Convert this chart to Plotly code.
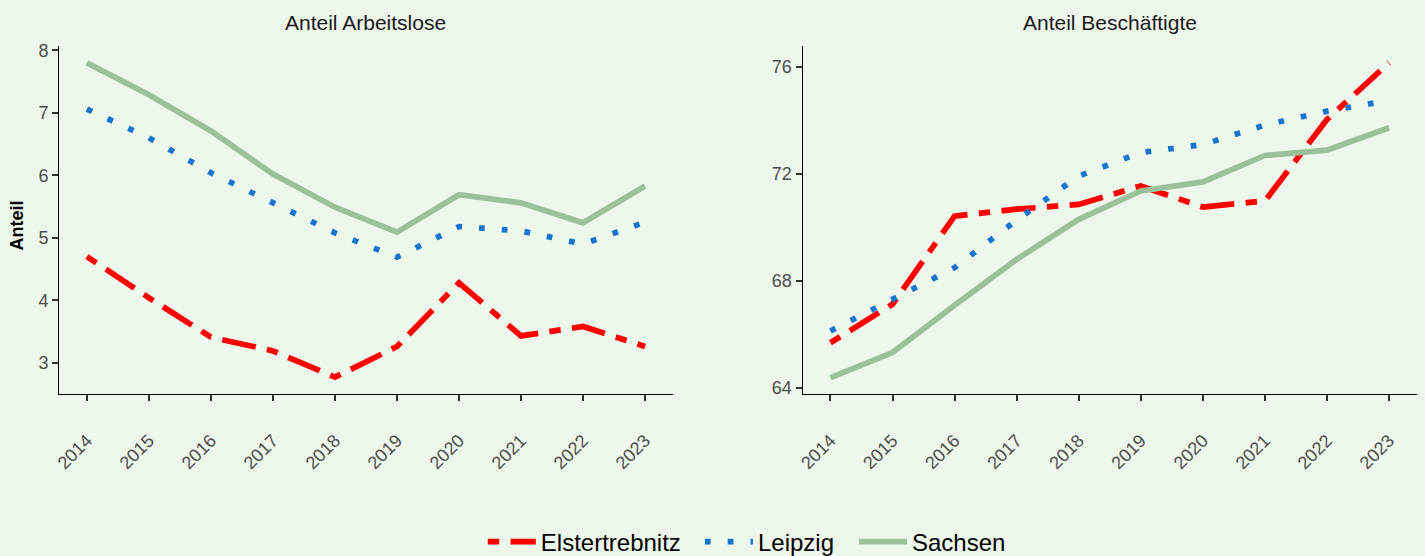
import plotly.graph_objects as go
from plotly.subplots import make_subplots

years = [2014, 2015, 2016, 2017, 2018, 2019, 2020, 2021, 2022, 2023]
series_names = ["Elstertrebnitz", "Leipzig", "Sachsen"]
panel_titles = ["Anteil Arbeitslose", "Anteil Beschäftigte"]

arbeitslose_elstertrebnitz = [4.70, 4.04, 3.41, 3.19, 2.77, 3.26, 4.28, 3.43, 3.58, 3.26]
arbeitslose_leipzig = [7.06, 6.60, 6.04, 5.57, 5.08, 4.69, 5.18, 5.11, 4.90, 5.25]
arbeitslose_sachsen = [7.80, 7.29, 6.71, 6.02, 5.49, 5.09, 5.69, 5.56, 5.24, 5.83]

beschaeftigte_elstertrebnitz = [65.68, 67.12, 70.42, 70.68, 70.86, 71.55, 70.76, 70.99, 74.04, 76.16]
beschaeftigte_leipzig = [66.12, 67.28, 68.49, 70.27, 71.92, 72.80, 73.10, 73.83, 74.35, 74.75]
beschaeftigte_sachsen = [64.37, 65.31, 67.08, 68.80, 70.30, 71.36, 71.70, 72.69, 72.89, 73.73]

W, H = 1425, 556
ML, MR, MT, MB = 59.4, 8.3, 46, 162
pw = W - ML - MR
ph = H - MT - MB

lw = 5.7
styles = {
    "Elstertrebnitz": dict(color="#FF0000", width=lw, dash="11.4px,11.4px,34.2px,11.4px"),
    "Leipzig": dict(color="#1874CD", width=lw, dash="5.7px,17.1px"),
    "Sachsen": dict(color="#9CC09C", width=lw, dash="solid"),
}
legend_ids = {"Elstertrebnitz": "legend", "Leipzig": "legend2", "Sachsen": "legend3"}
legend_text_px = {"Elstertrebnitz": 541, "Leipzig": 758, "Sachsen": 912}
item_w = 48

fig = make_subplots(rows=1, cols=2, horizontal_spacing=0.0954)

left = [arbeitslose_elstertrebnitz, arbeitslose_leipzig, arbeitslose_sachsen]
right = [beschaeftigte_elstertrebnitz, beschaeftigte_leipzig, beschaeftigte_sachsen]

for name, ys in zip(series_names, left):
    fig.add_trace(go.Scatter(x=years, y=ys, mode="lines", name=name, line=styles[name],
                             legendgroup=name, showlegend=True, legend=legend_ids[name]), row=1, col=1)
for name, ys in zip(series_names, right):
    fig.add_trace(go.Scatter(x=years, y=ys, mode="lines", name=name, line=styles[name],
                             legendgroup=name, showlegend=False), row=1, col=2)

bg = "#EEF7EC"
font_family = "Liberation Sans, Arial"
axis_common = dict(showgrid=False, zeroline=False, showline=True, linecolor="black", linewidth=1,
                   ticks="outside", ticklen=6, tickwidth=2, tickcolor="#333333")

fig.update_xaxes(**axis_common, tickmode="array", tickvals=years, ticktext=[str(y) for y in years],
                 tickangle=-45, range=[2013.55, 2023.45], ticklabelstandoff=22,
                 tickfont=dict(family=font_family, size=18, color="#4D4D4D"))
fig.update_xaxes(domain=[0, 0.4521], row=1, col=1)
fig.update_xaxes(domain=[0.5475, 1], row=1, col=2)
fig.update_yaxes(**axis_common, tickfont=dict(family=font_family, size=18, color="#4D4D4D"))
fig.update_yaxes(range=[2.5, 8.07], tickvals=[3, 4, 5, 6, 7, 8], row=1, col=1)
fig.update_yaxes(range=[63.76, 76.79], tickvals=[64, 68, 72, 76], row=1, col=2)

# y-axis title (paper coords are relative to the plot area)
fig.add_annotation(text="<b>Anteil</b>", x=(17 - ML) / pw, y=((H - MB) - 226) / ph,
                   xref="paper", yref="paper", xanchor="center", yanchor="middle",
                   textangle=-90, showarrow=False,
                   font=dict(family=font_family, size=18, color="black"))

for title, (x0, x1) in zip(panel_titles, [(0, 0.4521), (0.5475, 1)]):
    fig.add_annotation(text=title, x=(x0 + x1) / 2, y=1, xref="paper", yref="paper",
                       xanchor="center", yanchor="bottom", yshift=10, showarrow=False,
                       font=dict(family=font_family, size=21, color="#1A1A1A"))

legend_y = -(542 - (H - MB)) / ph
legend_common = dict(orientation="h", xanchor="left", y=legend_y, yanchor="middle",
                     font=dict(family=font_family, size=24, color="black"),
                     bgcolor="rgba(0,0,0,0)", itemwidth=item_w)
legends = {}
for name in series_names:
    left_px = legend_text_px[name] - 10 - item_w
    legends[legend_ids[name]] = dict(legend_common, x=(left_px - ML) / pw)

fig.update_layout(
    width=W, height=H,
    margin=dict(l=ML, r=MR, t=MT, b=MB, autoexpand=False),
    paper_bgcolor=bg, plot_bgcolor=bg,
    showlegend=True,
    **legends,
)

fig.write_html("out.html", config={"displayModeBar": False},
               post_script="document.body.style.margin='0';document.body.style.overflow='hidden';")
